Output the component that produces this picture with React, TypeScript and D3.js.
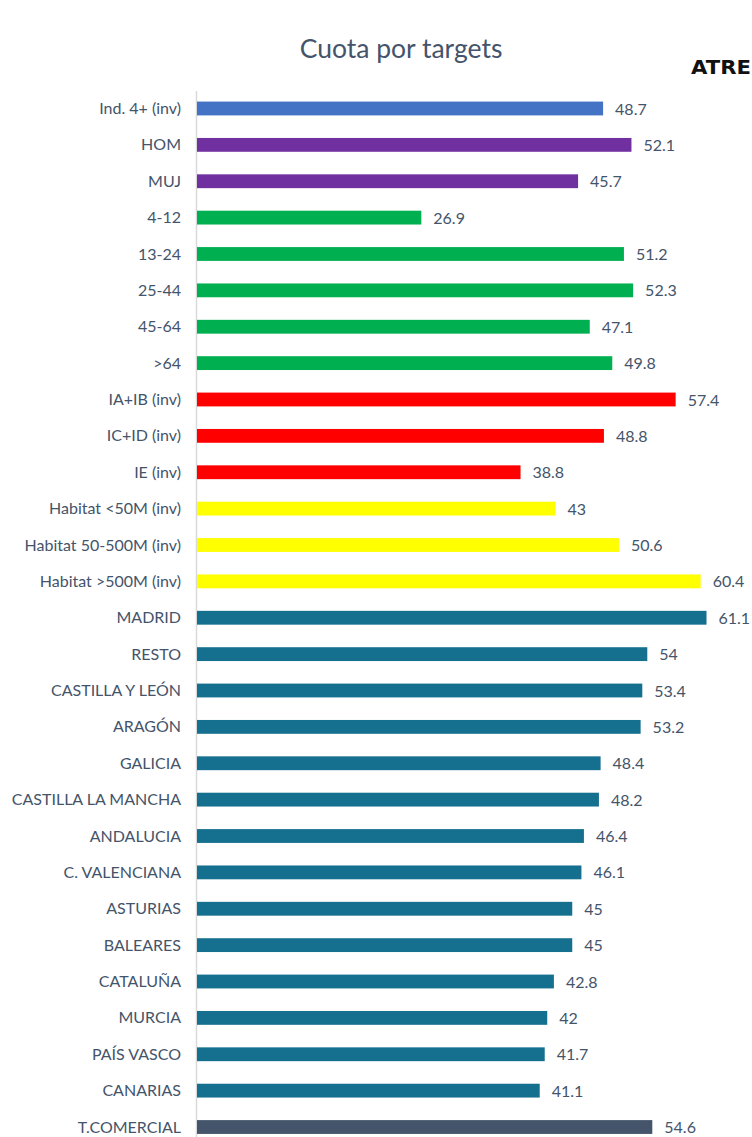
import React from 'react';
import * as d3 from 'd3';

const categories = [
  'Ind. 4+ (inv)', 'HOM', 'MUJ', '4-12', '13-24', '25-44', '45-64', '>64',
  'IA+IB (inv)', 'IC+ID (inv)', 'IE (inv)',
  'Habitat <50M (inv)', 'Habitat 50-500M (inv)', 'Habitat >500M (inv)',
  'MADRID', 'RESTO', 'CASTILLA Y LEÓN', 'ARAGÓN', 'GALICIA', 'CASTILLA LA MANCHA',
  'ANDALUCIA', 'C. VALENCIANA', 'ASTURIAS', 'BALEARES', 'CATALUÑA', 'MURCIA',
  'PAÍS VASCO', 'CANARIAS', 'T.COMERCIAL',
];

const values = [
  48.7, 52.1, 45.7, 26.9, 51.2, 52.3, 47.1, 49.8,
  57.4, 48.8, 38.8,
  43, 50.6, 60.4,
  61.1, 54, 53.4, 53.2, 48.4, 48.2,
  46.4, 46.1, 45, 45, 42.8, 42,
  41.7, 41.1, 54.6,
];

// which colour group each row belongs to
const groups = [
  'total', 'sexo', 'sexo', 'edad', 'edad', 'edad', 'edad', 'edad',
  'clase', 'clase', 'clase',
  'habitat', 'habitat', 'habitat',
  'region', 'region', 'region', 'region', 'region', 'region',
  'region', 'region', 'region', 'region', 'region', 'region',
  'region', 'region', 'comercial',
];

const groupColors: Record<string, string> = {
  total: '#4472c4',
  sexo: '#7030a0',
  edad: '#00b050',
  clase: '#ff0000',
  habitat: '#ffff00',
  region: '#156f8f',
  comercial: '#44546a',
};

export default function App() {
  const width = 752, height = 1137;
  const left = 197;
  const textColor = '#44546a';
  const font = 'Lato, "Open Sans", sans-serif';

  const x = d3.scaleLinear().domain([0, 61.1]).range([left, 706.5]);
  const y = d3.scaleBand()
    .domain(categories)
    .range([90.3, 1145.2])
    .paddingInner(0.62)
    .paddingOuter(0.31);

  const rows = categories.map((c, i) => ({c, v: values[i], g: groups[i]}));

  return (
    <svg width={width} height={height}
         style={{position: 'absolute', left: 0, top: 0, background: '#fff'}}>
      <text x={401} y={58} textAnchor="middle" fontFamily={font}
            fontSize={26.5} fill={textColor}>Cuota por targets</text>
      <text x={691} y={74} fontFamily='"DejaVu Sans", sans-serif' fontWeight="bold"
            fontSize={19} fill="#111" textLength={60} lengthAdjust="spacingAndGlyphs">ATRE</text>

      <line x1={left - 0.5} x2={left - 0.5} y1={91} y2={height} stroke="#d9d9d9" strokeWidth={1.5}/>

      {rows.map(d => {
        const yc = (y(d.c) as number) + y.bandwidth() / 2;
        return (
          <g key={d.c}>
            <rect x={left} y={y(d.c)} width={x(d.v) - left} height={y.bandwidth()}
                  fill={groupColors[d.g]}/>
            <text x={left - 16} y={yc} dy="0.35em" textAnchor="end"
                  fontFamily={font} fontSize={16} fill={textColor}>{d.c}</text>
            <text x={x(d.v) + 12} y={yc} dy="0.38em"
                  fontFamily={font} fontSize={16} fill={textColor}>{d.v}</text>
          </g>
        );
      })}
    </svg>
  );
}
